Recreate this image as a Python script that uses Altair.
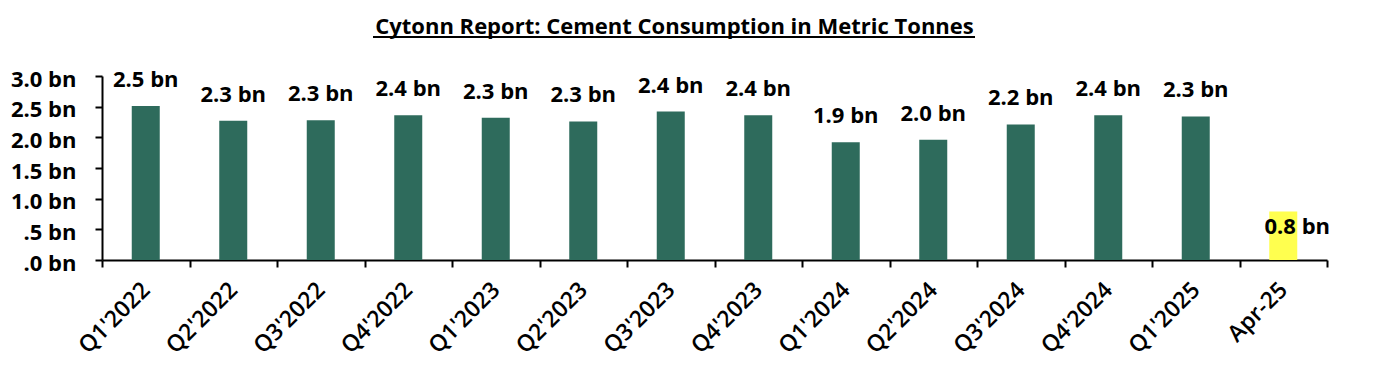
import altair as alt
import pandas as pd

categories = ["Q1'2022", "Q2'2022", "Q3'2022", "Q4'2022", "Q1'2023", "Q2'2023",
              "Q3'2023", "Q4'2023", "Q1'2024", "Q2'2024", "Q3'2024", "Q4'2024",
              "Q1'2025", "Apr-25"]
values = [2.51, 2.27, 2.28, 2.36, 2.32, 2.26, 2.42, 2.36, 1.92, 1.96, 2.21, 2.36, 2.34, 0.79]

df = pd.DataFrame({"period": categories, "value": values})

FONT = "Open Sans"
GREEN = "#2E6B5C"
YELLOW = "#FFFF4F"
HIGHLIGHT = "Apr-25"

x = alt.X("period:N", sort=categories, title=None,
          scale=alt.Scale(paddingInner=0, paddingOuter=0),
          axis=alt.Axis(labelAngle=-45, labelAlign="right", labelBaseline="middle",
                        labelFont=FONT, labelFontSize=23, labelFontWeight=600,
                        labelColor="black", labelPadding=19, tickBand="extent",
                        tickSize=7, tickColor="black", tickWidth=2,
                        domainColor="black", domainWidth=2, labelOverlap=False))
y = alt.Y("value:Q", title=None,
          scale=alt.Scale(domain=[0, 3.0], nice=False),
          axis=alt.Axis(values=[0, 0.5, 1.0, 1.5, 2.0, 2.5, 3.0], grid=False,
                        labelExpr="datum.value == 0 ? '.0 bn' : datum.value == 0.5 ? '.5 bn' : format(datum.value, '.1f') + ' bn'",
                        labelFont=FONT, labelFontSize=22, labelFontWeight="bold",
                        labelColor="black", labelPadding=19, labelOffset=3, tickSize=7,
                        tickColor="black", tickWidth=2, domainColor="black", domainWidth=2))

base = alt.Chart(df).transform_calculate(lbl="format(datum.value, '.1f') + ' bn'")

bars = base.mark_bar(width=28).encode(
    x=x, y=y,
    color=alt.condition(alt.datum.period == HIGHLIGHT, alt.value(YELLOW), alt.value(GREEN)),
)

labels = base.transform_filter(alt.datum.period != HIGHLIGHT).mark_text(
    font=FONT, fontSize=22, fontWeight="bold", color="black", baseline="alphabetic", dy=-19
).encode(x=x, y=y, text="lbl:N")
labels_hl = base.transform_filter(alt.datum.period == HIGHLIGHT).mark_text(
    font=FONT, fontSize=22, fontWeight="bold", color="black", baseline="middle", dy=15, dx=14
).encode(x=x, y=y, text="lbl:N")

underline = alt.Chart(pd.DataFrame({"a": [0]})).mark_rule(color="black", strokeWidth=2).encode(
    x=alt.value(271), x2=alt.value(873), y=alt.value(-39)
)

chart = alt.layer(bars, labels, labels_hl, underline).properties(
    width=1225, height=184,
    autosize=alt.AutoSizeParams(type="none"),
    padding={"left": 94, "top": 68, "right": 20, "bottom": 100},
    title=alt.TitleParams("Cytonn Report: Cement Consumption in Metric Tonnes",
                          font=FONT, fontSize=22, fontWeight="bold", color="black",
                          anchor="middle", dx=-40, dy=21, offset=18),
).configure_view(stroke=None)

chart.save("out.html", embed_options={"renderer": "svg", "actions": False})
